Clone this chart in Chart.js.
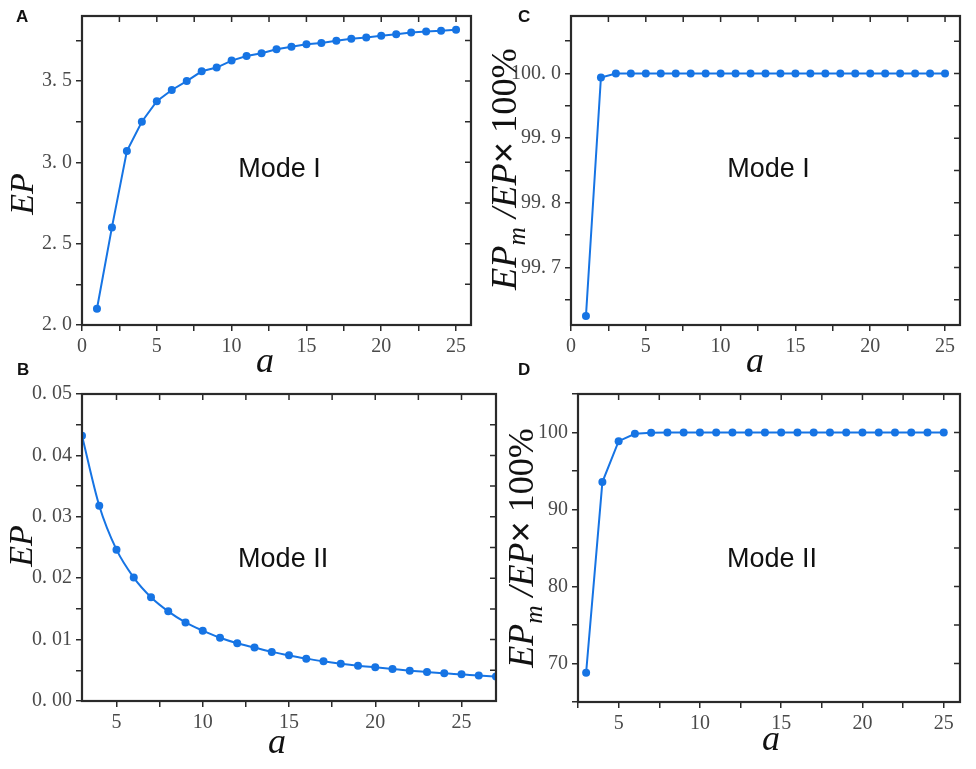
<!DOCTYPE html>
<html>
<head>
<meta charset="utf-8">
<script src="https://cdn.jsdelivr.net/npm/chart.js@4.4.1/dist/chart.umd.min.js"></script>
<style>
  html, body { margin: 0; padding: 0; background: #fff; }
  #page { position: relative; width: 976px; height: 769px; overflow: hidden; }
  #page canvas { position: absolute; left: 0; top: 0; }
  .tag { position: absolute; font: bold 17px 'Liberation Sans', Arial, sans-serif; line-height: 17px; color: #111; }
</style>
</head>
<body>
<div id="page">
  <canvas id="chartA" width="976" height="769"></canvas>
  <canvas id="chartB" width="976" height="769"></canvas>
  <canvas id="chartC" width="976" height="769"></canvas>
  <canvas id="chartD" width="976" height="769"></canvas>
  <div class="tag" style="left:16px;top:8px">A</div>
  <div class="tag" style="left:17px;top:361px">B</div>
  <div class="tag" style="left:518px;top:8px">C</div>
  <div class="tag" style="left:518px;top:361px">D</div>
</div>
<script>
// ---- data ----
const aModeI = [1, 2, 3, 4, 5, 6, 7, 8, 9, 10, 11, 12, 13, 14, 15, 16, 17, 18, 19, 20, 21, 22, 23, 24, 25];
const epModeI = [2.10, 2.60, 3.07, 3.25, 3.376, 3.445, 3.50, 3.56, 3.583, 3.626, 3.654, 3.671, 3.695,
                 3.711, 3.726, 3.734, 3.748, 3.760, 3.768, 3.778, 3.788, 3.798, 3.805, 3.810, 3.815];
const ratioModeI = [99.625, 99.994, 100.0, 100.0, 100.0, 100.0, 100.0, 100.0, 100.0, 100.0, 100.0, 100.0, 100.0,
                    100.0, 100.0, 100.0, 100.0, 100.0, 100.0, 100.0, 100.0, 100.0, 100.0, 100.0, 100.0];

const aModeII = [3, 4, 5, 6, 7, 8, 9, 10, 11, 12, 13, 14, 15, 16, 17, 18, 19, 20, 21, 22, 23, 24, 25, 26, 27];
const epModeII = [0.0432, 0.0318, 0.02465, 0.0201, 0.0169, 0.0146, 0.0128, 0.01146, 0.0103, 0.0094, 0.0087,
                  0.0080, 0.00744, 0.0069, 0.00646, 0.00608, 0.00575, 0.00548, 0.00521, 0.00494, 0.00472,
                  0.0045, 0.00434, 0.00415, 0.0040];

const aRatioModeII = [3, 4, 5, 6, 7, 8, 9, 10, 11, 12, 13, 14, 15, 16, 17, 18, 19, 20, 21, 22, 23, 24, 25];
const ratioModeII = [68.8, 93.56, 98.87, 99.83, 99.96, 100, 100, 100, 100, 100, 100, 100, 100,
                     100, 100, 100, 100, 100, 100, 100, 100, 100, 100];

const blue = '#1674e4';
const serif = "'Liberation Serif', 'DejaVu Serif', serif";
const sans = "'Liberation Sans', Arial, sans-serif";
const W = 976, H = 769;

const toPoints = (xs, ys) => xs.map((x, i) => ({ x: x, y: ys[i] }));
const spaced = (v, d) => v.toFixed(d).replace('.', '. ');
const isMultiple = (v, m) => Math.abs(v / m - Math.round(v / m)) < 1e-6;

// box around the plot, with inward ticks on top and right
const framePlugin = {
    id: 'frame',
    afterDraw(chart) {
        const { ctx, chartArea: a } = chart;
        const x = chart.scales.x, y = chart.scales.y;
        ctx.save();
        ctx.strokeStyle = '#2a2a2a';
        ctx.lineWidth = 1.5;
        ctx.beginPath();
        x.ticks.forEach(t => {
            const px = x.getPixelForValue(t.value);
            ctx.moveTo(px, a.top);
            ctx.lineTo(px, a.top + 6);
        });
        y.ticks.forEach(t => {
            const py = y.getPixelForValue(t.value);
            ctx.moveTo(a.right, py);
            ctx.lineTo(a.right - 6, py);
        });
        ctx.stroke();
        ctx.lineWidth = 2.2;
        ctx.strokeRect(a.left, a.top, a.right - a.left, a.bottom - a.top);
        ctx.restore();
    }
};

// mode label, x title and (rich) y title; panel settings come in through the closure
function textPlugin(p) {
    return {
        id: 'panelText',
        afterDraw(chart) {
            const { ctx } = chart;
            const x = chart.scales.x, y = chart.scales.y;
            ctx.save();
            ctx.fillStyle = '#111';

            ctx.font = `27px ${sans}`;
            ctx.textAlign = 'center';
            ctx.textBaseline = 'middle';
            ctx.fillText(p.mode.text, x.getPixelForValue(p.mode.x), y.getPixelForValue(p.mode.y));

            ctx.font = `italic 36px ${serif}`;
            ctx.textBaseline = 'alphabetic';
            ctx.fillText('a', p.xTitle.x, p.xTitle.y);

            // y title: segments laid along a rotated baseline
            const yt = p.yTitle;
            const fontOf = (seg, s) => (seg.italic ? 'italic ' : '') + (s * (seg.scale || 1)).toFixed(1) + 'px ' + (seg.family || serif);
            const widthAt = s => yt.segments.reduce((w, seg) => {
                ctx.font = fontOf(seg, s);
                return w + ctx.measureText(seg.text).width;
            }, 0);
            let size = yt.size;
            if (yt.length) size = size * yt.length / widthAt(size);
            const total = widthAt(size);
            ctx.translate(yt.x, yt.y);
            ctx.rotate(-Math.PI / 2);
            ctx.textAlign = 'left';
            let pos = -total / 2;
            yt.segments.forEach(seg => {
                ctx.font = fontOf(seg, size);
                ctx.fillText(seg.text, pos, (seg.drop || 0) * size);
                pos += ctx.measureText(seg.text).width;
            });
            ctx.restore();
        }
    };
}

const epTitle = [{ text: 'EP', italic: true }];
const ratioTitle = [
    { text: 'EP', italic: true },
    { text: 'm', italic: true, scale: 0.7, drop: 0.25 },
    { text: ' /EP', italic: true },
    { text: '×', family: sans },
    { text: ' 100%' }
];

function makePanel(id, p) {
    const tickFont = { family: serif, size: 20 };
    return new Chart(document.getElementById(id), {
        type: 'line',
        data: {
            datasets: [{
                data: toPoints(p.xs, p.ys),
                borderColor: blue,
                backgroundColor: blue,
                borderWidth: 2,
                pointRadius: 4,
                pointHoverRadius: 4,
                pointBorderWidth: 0,
                tension: 0,
                cubicInterpolationMode: p.smooth ? 'monotone' : 'default'
            }]
        },
        options: {
            responsive: false,
            animation: false,
            events: [],
            layout: {
                padding: { left: p.area.left - 80, right: W - p.area.right, top: p.area.top, bottom: H - p.area.bottom - 40 }
            },
            plugins: {
                legend: { display: false },
                tooltip: { enabled: false }
            },
            scales: {
                x: {
                    type: 'linear',
                    min: p.xMin,
                    max: p.xMax,
                    afterFit: s => { s.height = 40; },
                    grid: { drawOnChartArea: false, drawTicks: true, tickLength: 6, color: '#2a2a2a', lineWidth: 1.5 },
                    border: { display: true, color: '#2a2a2a', width: 2 },
                    ticks: {
                        stepSize: 2.5,
                        includeBounds: false,
                        autoSkip: false,
                        maxRotation: 0,
                        padding: 4,
                        color: '#4a4a4a',
                        font: tickFont,
                        callback: v => isMultiple(v, 5) ? String(v) : ''
                    }
                },
                y: {
                    min: p.yMin,
                    max: p.yMax,
                    afterFit: s => { s.width = 80; },
                    grid: { drawOnChartArea: false, drawTicks: true, tickLength: 6, color: '#2a2a2a', lineWidth: 1.5 },
                    border: { display: true, color: '#2a2a2a', width: 2 },
                    ticks: {
                        stepSize: p.yMinor,
                        includeBounds: false,
                        autoSkip: false,
                        padding: 4,
                        color: '#4a4a4a',
                        font: tickFont,
                        callback: v => isMultiple(v, p.yMajor) ? p.fmt(v) : ''
                    }
                }
            }
        },
        plugins: [framePlugin, textPlugin(p)]
    });
}

makePanel('chartA', {
    xs: aModeI, ys: epModeI,
    area: { left: 82, right: 471, top: 13, bottom: 325 },
    xMin: 0, xMax: 26, yMin: 2.0, yMax: 3.9, yMinor: 0.25, yMajor: 0.5,
    fmt: v => spaced(v, 1),
    mode: { text: 'Mode I', x: 13.2, y: 2.957 },
    xTitle: { x: 265, y: 372 },
    yTitle: { x: 33, y: 194, size: 34, segments: epTitle }
});

makePanel('chartB', {
    xs: aModeII, ys: epModeII, smooth: true,
    area: { left: 82, right: 496, top: 394, bottom: 701 },
    xMin: 3, xMax: 27, yMin: 0, yMax: 0.05, yMinor: 0.005, yMajor: 0.01,
    fmt: v => spaced(v, 2),
    mode: { text: 'Mode II', x: 14.66, y: 0.02296 },
    xTitle: { x: 277, y: 753 },
    yTitle: { x: 32, y: 546, size: 34, segments: epTitle }
});

makePanel('chartC', {
    xs: aModeI, ys: ratioModeI,
    area: { left: 571, right: 960, top: 13, bottom: 325 },
    xMin: 0, xMax: 26, yMin: 99.611, yMax: 100.089, yMinor: 0.05, yMajor: 0.1,
    fmt: v => spaced(v, 1),
    mode: { text: 'Mode I', x: 13.2, y: 99.852 },
    xTitle: { x: 755, y: 372 },
    yTitle: { x: 516, y: 169, size: 36, length: 242, segments: ratioTitle }
});

makePanel('chartD', {
    xs: aRatioModeII, ys: ratioModeII,
    area: { left: 578, right: 960, top: 394, bottom: 702 },
    xMin: 2.5, xMax: 26, yMin: 65, yMax: 105, yMinor: 5, yMajor: 10,
    fmt: v => String(Math.round(v)),
    mode: { text: 'Mode II', x: 14.43, y: 83.44 },
    xTitle: { x: 771, y: 750 },
    yTitle: { x: 533, y: 548, size: 36, length: 240, segments: ratioTitle }
});
</script>
</body>
</html>
